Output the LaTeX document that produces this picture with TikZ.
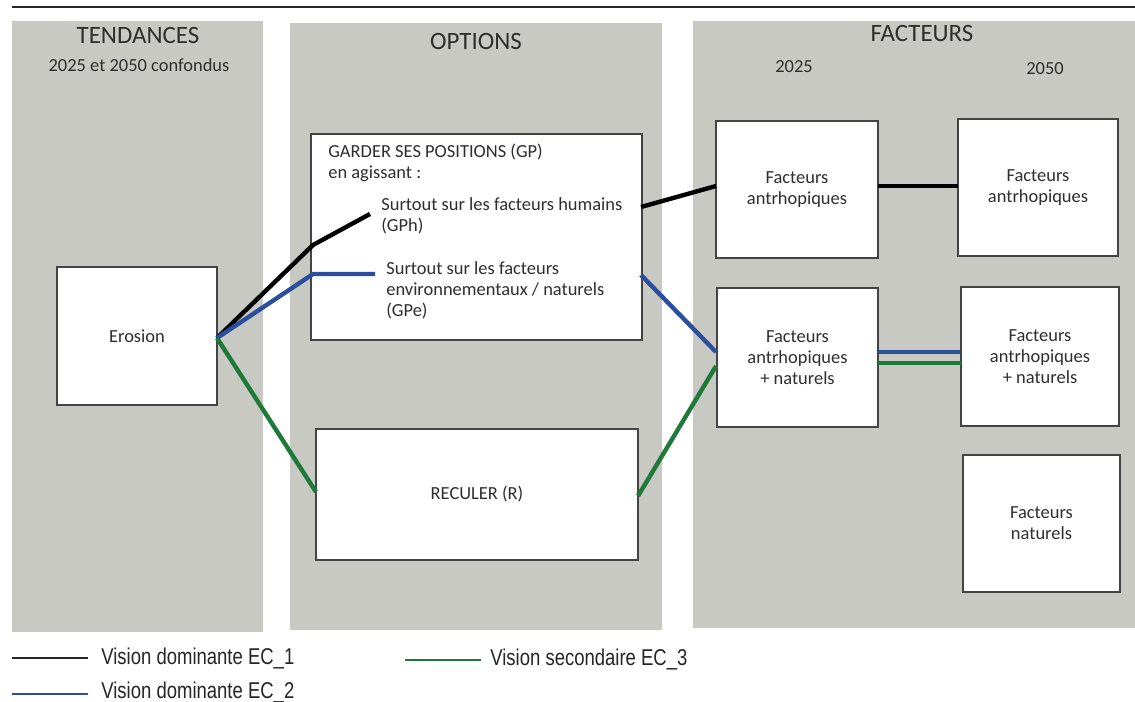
\documentclass[tikz,border=0pt]{standalone}
\usepackage{fontspec}
\setmainfont{Carlito}
\newfontfamily\legfont[FakeStretch=0.81]{Liberation Sans}
\definecolor{panelgray}{HTML}{C9C9C4}
\definecolor{ecblue}{HTML}{2B4F9C}
\definecolor{ecgreen}{HTML}{1F7A3A}
\definecolor{txtgray}{HTML}{2E2E2E}
\definecolor{boxborder}{HTML}{444444}
\begin{document}
\begin{tikzpicture}[x=0.02cm,y=-0.02cm,
  panel/.style={fill=panelgray,draw=none},
  box/.style={draw=boxborder,fill=white,line width=0.8pt,inner sep=0pt,align=center,text=txtgray,font=\fontsize{10.5}{12}\selectfont},
  head/.style={text=txtgray,font=\fontsize{14.2}{16}\selectfont},
  sub/.style={text=txtgray,font=\fontsize{10.5}{12}\selectfont},
  intext/.style={text=txtgray,font=\fontsize{10.5}{12}\selectfont,align=left,anchor=north west,inner sep=0pt},
  ec1/.style={line width=2.5pt,black},
  ec2/.style={line width=2.5pt,ecblue},
  ec3/.style={line width=2.5pt,ecgreen},
  leg/.style={font=\legfont\fontsize{13}{15}\selectfont,anchor=west,inner sep=0pt,text=black!85},
  legline/.style={line width=1.5pt}]
\useasboundingbox (0,0) rectangle (1135,702);
\fill[white] (0,0) rectangle (1135,702);
% top rule
\draw[line width=1.7pt,black!85] (12,7) -- (1135,7);
% panels
\fill[panel] (12,21) rectangle (263,632);
\fill[panel] (290,23) rectangle (662,630);
\fill[panel] (693,21) rectangle (1135,628);
% headers
\node[head] (tend) at (138,35) {TENDANCES};
\node[sub] (tendsub) at (139,65) {2025 et 2050 confondus};
\node[head] (opt) at (476,41) {OPTIONS};
\node[head] (fact) at (922,34) {FACTEURS};
\node[sub] (y25) at (794,67) {2025};
\node[sub] (y50) at (1045,69) {2050};
% boxes
\node[box,minimum width=3.2cm,minimum height=2.76cm] (ero) at (137,336) {Erosion};
\node[box,minimum width=6.62cm,minimum height=4.12cm] (gp) at (476.5,237) {};
\node[box,minimum width=6.44cm,minimum height=2.62cm] (rec) at (477,494.5) {RECULER (R)};
\node[box,minimum width=3.24cm,minimum height=2.74cm] (fa25) at (797,189.5) {Facteurs\\antrhopiques};
\node[box,minimum width=3.2cm,minimum height=2.74cm] (fa50) at (1038,187.5) {Facteurs\\antrhopiques};
\node[box,minimum width=3.22cm,minimum height=2.78cm] (fan25) at (797.5,357.5) {Facteurs\\antrhopiques\\+ naturels};
\node[box,minimum width=3.16cm,minimum height=2.78cm] (fan50) at (1040,356.5) {Facteurs\\antrhopiques\\+ naturels};
\node[box,minimum width=3.14cm,minimum height=2.74cm] (fn) at (1041.5,523.5) {Facteurs\\naturels};
% texts inside GP
\node[intext] (gptitle) at (328,144) {GARDER SES POSITIONS (GP)\\en agissant :};
\node[intext] (gph) at (381,197) {Surtout sur les facteurs humains\\(GPh)};
\node[intext] (gpe) at (386,261) {Surtout sur les facteurs\\environnementaux / naturels\\(GPe)};
% waypoints
\coordinate (b1) at (313,245);
\coordinate (b2) at (370,214);
\coordinate (b3) at (641,207);
\coordinate (b4) at (716,186);
\coordinate (b5) at (878,186);
\coordinate (b6) at (958,186);
\coordinate (u1) at (313,274);
\coordinate (u2) at (375,274);
\coordinate (u3) at (641,275);
\coordinate (u4) at (716,352);
\coordinate (u5) at (878,352);
\coordinate (u6) at (960,352);
\coordinate (e0) at (217,338);
\coordinate (g1) at (316,492);
\coordinate (g2) at (638,496);
\coordinate (g3) at (716,366);
\coordinate (g4) at (878,363);
\coordinate (g5) at (961,363);
% connectors
\draw[ec1] (e0) -- (b1) -- (b2);
\draw[ec1] (b3) -- (b4);
\draw[ec1] (b5) -- (b6);
\draw[ec2] (e0) -- (u1) -- (u2);
\draw[ec2] (u3) -- (u4);
\draw[ec2] (u5) -- (u6);
\draw[ec3] (e0) -- (g1);
\draw[ec3] (g2) -- (g3);
\draw[ec3] (g4) -- (g5);
% legend
\node[leg] (l1) at (101,658) {Vision dominante EC\_1};
\node[leg] (l2) at (101,692) {Vision dominante EC\_2};
\node[leg] (l3) at (490,659) {Vision secondaire EC\_3};
\coordinate (l1s) at (12,658);
\coordinate (l2s) at (12,694);
\coordinate (l3s) at (405,660);
\draw[legline,black!85] (l1s) -- (88,658);
\draw[legline,ecblue] (l2s) -- (88,694);
\draw[legline,ecgreen] (l3s) -- (481,660);
\end{tikzpicture}
\end{document}
